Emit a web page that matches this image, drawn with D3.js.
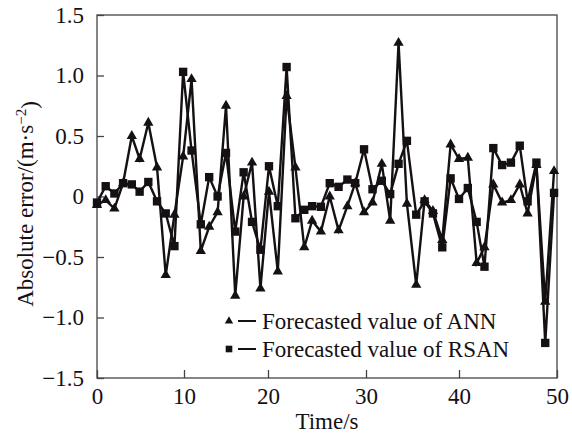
<!DOCTYPE html>
<html>
<head>
<meta charset="utf-8">
<script src="https://cdn.jsdelivr.net/npm/d3@7"></script>
<style>
  body { margin: 0; background: #fff; }
  svg text { font-family: "Liberation Serif", "Times New Roman", serif; }
</style>
</head>
<body>
<svg id="chart" width="572" height="434"></svg>
<script>
// Data
var times = [0, 1.0, 2.0, 3.0, 4.0, 4.9, 5.9, 6.9, 7.9, 8.9,
  9.9, 10.9, 12.0, 13.0, 14.0, 15.0, 16.1, 17.1, 18.1, 19.1,
  20.1, 21.0, 21.9, 22.8, 23.7, 24.5, 25.4, 26.3, 27.2, 28.1,
  28.9, 29.8, 30.7, 31.7, 32.6, 33.5, 34.4, 35.4, 36.3, 37.2,
  38.2, 39.1, 40.0, 40.9, 41.8, 42.6, 43.5, 44.4, 45.3, 46.2,
  47.0, 47.9, 48.8, 49.7];

var annError = [-0.07, -0.03, -0.10, 0.11, 0.50, 0.31, 0.61, 0.24, -0.65, -0.15,
  0.33, 0.97, -0.45, -0.25, -0.13, 0.75, -0.82, 0.00, 0.28, -0.76,
  0.04, -0.62, 0.83, 0.24, -0.42, -0.20, -0.29, 0.00, -0.28, -0.08,
  0.11, -0.13, -0.05, 0.27, -0.20, 1.27, -0.06, -0.73, -0.03, -0.12,
  -0.36, 0.43, 0.31, 0.32, -0.55, -0.42, 0.10, -0.05, -0.03, 0.10,
  -0.14, 0.26, -0.87, 0.21];

var rsanError = [-0.05, 0.085, 0.025, 0.11, 0.10, 0.04, 0.12, -0.04, -0.14, -0.41,
  1.03, 0.38, -0.23, 0.16, 0.00, 0.36, -0.29, 0.20, -0.21, -0.44,
  0.25, -0.08, 1.07, -0.18, -0.11, -0.08, -0.085, 0.11, 0.08, 0.14,
  0.11, 0.39, 0.06, 0.13, 0.02, 0.27, 0.46, -0.15, -0.04, -0.14,
  -0.42, 0.15, -0.02, 0.07, -0.21, -0.58, 0.40, 0.26, 0.28, 0.42,
  -0.04, 0.28, -1.21, 0.03];

var xTicks = [0, 10, 20, 30, 40, 50];
var yTicks = [-1.5, -1.0, -0.5, 0, 0.5, 1.0, 1.5];
var legendLabels = ["Forecasted value of ANN", "Forecasted value of RSAN"];

var svg = d3.select("#chart");
var ink = "#141014";
var serif = "'Liberation Serif', 'Times New Roman', serif";
var fontSize = "23px";

// Scales (the printed x axis is not evenly spaced, so use a piecewise scale)
var x = d3.scaleLinear()
  .domain(xTicks)
  .range([97, 184, 268, 366, 459, 557]);

var y = d3.scaleLinear()
  .domain([-1.5, 1.5])
  .range([378, 15]);

// Frame
svg.append("rect")
  .attr("x", x(0))
  .attr("y", y(1.5))
  .attr("width", x(50) - x(0))
  .attr("height", y(-1.5) - y(1.5))
  .attr("fill", "none")
  .attr("stroke", "#444")
  .attr("stroke-width", 1.3);

// Axes
var xAxis = d3.axisBottom(x)
  .tickValues(xTicks)
  .tickSize(-8)
  .tickPadding(12)
  .tickFormat(d3.format("d"));

var yAxis = d3.axisLeft(y)
  .tickValues(yTicks)
  .tickSize(-7)
  .tickPadding(13)
  .tickFormat(function(d) { return d === 0 ? "0" : d3.format(".1f")(d); });

var gx = svg.append("g")
  .attr("transform", `translate(0,${y(-1.5)})`)
  .call(xAxis);
var gy = svg.append("g")
  .attr("transform", `translate(${x(0)},0)`)
  .call(yAxis);

[gx, gy].forEach(function(g) {
  g.attr("font-family", serif).attr("font-size", fontSize);
  g.select(".domain").remove();
  g.selectAll(".tick line").attr("stroke", "#444").attr("stroke-width", 1.3);
  g.selectAll(".tick text").attr("fill", ink);
});
gx.selectAll(".tick text").attr("dy", "0.6em");

// Axis titles
svg.append("text")
  .attr("x", (x(0) + x(50)) / 2)
  .attr("y", 429)
  .attr("text-anchor", "middle")
  .attr("fill", ink)
  .style("font-size", fontSize)
  .text("Time/s");

var ylab = svg.append("text")
  .attr("transform", "translate(33,204) rotate(-90)")
  .attr("text-anchor", "middle")
  .attr("fill", ink)
  .style("font-size", fontSize);
ylab.append("tspan").text("Absolute error/(m\u00b7s");
ylab.append("tspan").attr("dy", "-0.5em").style("font-size", "15px").text("\u22122");
ylab.append("tspan").attr("dy", "0.5em").text(")");

// Lines
var line = d3.line()
  .x(function(d) { return x(d[0]); })
  .y(function(d) { return y(d[1]); });

var annPts = d3.zip(times, annError);
var rsanPts = d3.zip(times, rsanError);

[rsanPts, annPts].forEach(function(pts) {
  svg.append("path")
    .datum(pts)
    .attr("d", line)
    .attr("fill", "none")
    .attr("stroke", ink)
    .attr("stroke-width", 2.4)
    .attr("stroke-linejoin", "miter");
});

// Markers
var tri = d3.symbol().type(d3.symbolTriangle).size(46);
var sq = d3.symbol().type(d3.symbolSquare).size(70);

svg.append("g")
  .selectAll("path")
  .data(rsanPts)
  .enter()
  .append("path")
  .attr("d", sq)
  .attr("transform", function(d) { return "translate(" + x(d[0]) + "," + y(d[1]) + ")"; })
  .attr("fill", ink);

svg.append("g")
  .selectAll("path")
  .data(annPts)
  .enter()
  .append("path")
  .attr("d", tri)
  .attr("transform", function(d) { return "translate(" + x(d[0]) + "," + y(d[1]) + ")"; })
  .attr("fill", ink);

// Legend
var legend = svg.append("g").attr("transform", "translate(229,321)");
legendLabels.forEach(function(label, i) {
  var row = legend.append("g").attr("transform", `translate(0,${i * 28})`);
  row.append("path")
    .attr("d", i === 0 ? d3.symbol().type(d3.symbolTriangle).size(30)() : d3.symbol().type(d3.symbolSquare).size(44)())
    .attr("fill", ink);
  row.append("line")
    .attr("x1", 9).attr("x2", 27)
    .attr("y1", 0).attr("y2", 0)
    .attr("stroke", ink)
    .attr("stroke-width", 2);
  row.append("text")
    .attr("x", 33)
    .attr("y", 0)
    .attr("dy", "0.33em")
    .attr("fill", ink)
    .style("font-size", fontSize)
    .text(label);
});
</script>
</body>
</html>
